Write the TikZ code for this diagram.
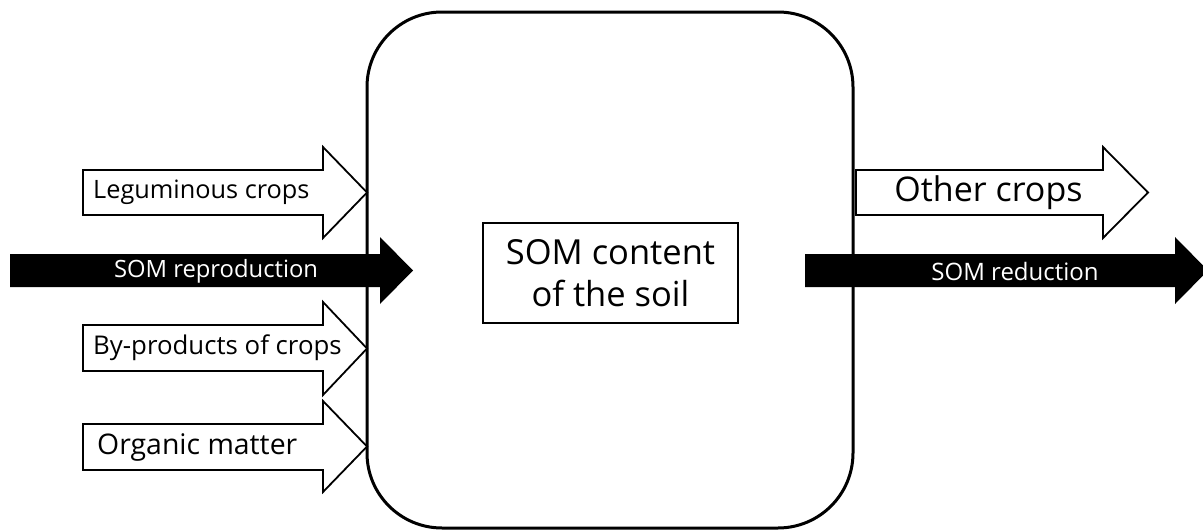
\documentclass[tikz,border=0pt]{standalone}
\usepackage{fontspec}
\setmainfont{Open Sans}
\begin{document}
\begin{tikzpicture}[x=1pt,y=-1pt,
  openarrow/.style={draw=black, line width=1.8pt, fill=white, line join=miter},
  blackarrow/.style={fill=black, draw=none},
  lbl/.style={inner sep=0pt, text=black},
  wlbl/.style={inner sep=0pt, text=white},
  bigbox/.style={draw=black, line width=3pt, rounded corners=75pt},
  innerbox/.style={draw=black, line width=2pt}]
\useasboundingbox (0,0) rectangle (1203,530);
\clip (0,0) rectangle (1203,530);
% main container
\draw[bigbox] (367,12) rectangle (853,528);
% inner box
\draw[innerbox] (483,223) rectangle (738,323);
\node[lbl, align=center, font=\fontsize{34.5}{42}\selectfont] (som) at (610.5,273) {SOM content\\of the soil};
% left open arrows
\draw[openarrow] (83,170) -- (323,170) -- (323,147) -- (367,192.5) -- (323,238) -- (323,215) -- (83,215) -- cycle;
\node[lbl, anchor=west, font=\fontsize{25.3}{30}\selectfont] (leg) at (93,192.5) {Leguminous crops};
\draw[openarrow] (83,325) -- (323,325) -- (323,302) -- (367,348.5) -- (323,395) -- (323,371) -- (83,371) -- cycle;
\node[lbl, anchor=west, font=\fontsize{25.8}{30}\selectfont] (byp) at (93,348) {By-products of crops};
\draw[openarrow] (83,424) -- (323,424) -- (323,401) -- (367,446.5) -- (323,492) -- (323,470) -- (83,470) -- cycle;
\node[lbl, anchor=west, font=\fontsize{28.4}{34}\selectfont] (org) at (97,447) {Organic matter};
% right open arrow
\draw[openarrow] (856,170) -- (1103,170) -- (1103,147) -- (1148,192.5) -- (1103,238) -- (1103,215) -- (856,215) -- cycle;
\node[lbl, font=\fontsize{34}{40}\selectfont] (oth) at (988.5,193) {Other crops};
% black arrows
\fill[blackarrow] (10,254) -- (380,254) -- (380,237) -- (413,270.5) -- (380,304) -- (380,287) -- (10,287) -- cycle;
\node[wlbl, font=\fontsize{23.8}{28}\selectfont] (rep) at (216,271) {SOM reproduction};
\fill[blackarrow] (805,254) -- (1175,254) -- (1175,237) -- (1208,270.5) -- (1175,304) -- (1175,287) -- (805,287) -- cycle;
\node[wlbl, font=\fontsize{24}{28}\selectfont] (red) at (1015,271) {SOM reduction};
\end{tikzpicture}
\end{document}
